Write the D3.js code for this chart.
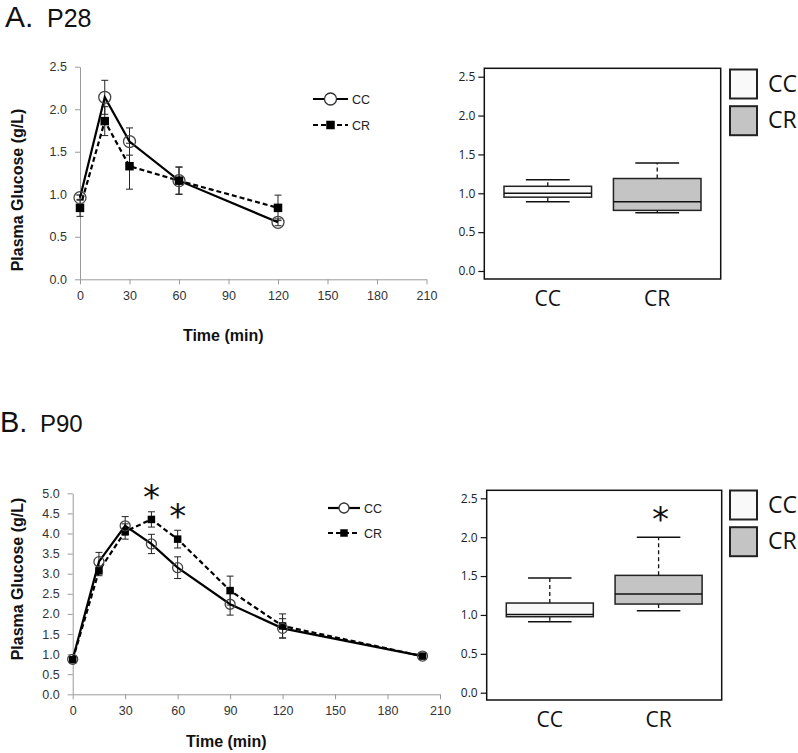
<!DOCTYPE html>
<html><head><meta charset="utf-8">
<script src="https://cdn.jsdelivr.net/npm/d3@7"></script>
<style>body{margin:0;background:#fff}svg{display:block}</style>
</head><body>
<svg id="c" width="798" height="753"></svg>
<script>
// ---- Data ----
const timeA = [0, 15, 30, 60, 120];
const ccA = [0.96, 2.14, 1.62, 1.16, 0.67];
const ccAerr = [0.03, 0.20, 0.16, 0.16, 0.04];
const crA = [0.84, 1.86, 1.33, 1.16, 0.84];
const crAerr = [0.10, 0.17, 0.27, 0.16, 0.15];

const timeB = [0, 15, 30, 45, 60, 90, 120, 200];
const ccB = [0.87, 3.30, 4.19, 3.74, 3.15, 2.24, 1.64, 0.95];
const ccBerr = [0.05, 0.23, 0.23, 0.24, 0.27, 0.27, 0.24, 0.03];
const crB = [0.86, 3.07, 4.05, 4.35, 3.86, 2.58, 1.70, 0.95];
const crBerr = [0.05, 0.12, 0.19, 0.19, 0.22, 0.36, 0.30, 0.03];
const starTimesB = [45, 60];

const xTicks = [0, 30, 60, 90, 120, 150, 180, 210];
const yTicksA = [0, 0.5, 1.0, 1.5, 2.0, 2.5];
const yTicksB = [0, 0.5, 1.0, 1.5, 2.0, 2.5, 3.0, 3.5, 4.0, 4.5, 5.0];
const boxTicks = [0, 0.5, 1.0, 1.5, 2.0, 2.5];

const groups = ["CC", "CR"];
// [min, q1, median, q3, max]
const boxA_CC = [0.89, 0.95, 1.00, 1.09, 1.175];
const boxA_CR = [0.75, 0.78, 0.89, 1.19, 1.39];
const boxB_CC = [0.913, 0.977, 1.007, 1.153, 1.474];
const boxB_CR = [1.054, 1.14, 1.27, 1.509, 2.0];
const boxStarB = "CR";

const svg = d3.select("#c");
const sans = "'Liberation Sans', Arial, sans-serif";
const tickFont = sans;
const boxFont = "'Open Sans', sans-serif";
const starFont = "'DejaVu Sans', sans-serif";
const starSize = 34;

function star(g, cx, cy) {
  g.append("text").attr("x", cx).attr("y", cy + 0.42 * starSize).attr("text-anchor", "middle")
    .attr("font-family", starFont).attr("font-size", starSize).attr("fill", "#111").text("*");
}

// Titles
function title(x, y, letter, sub, s1, s2, x2) {
  svg.append("text").attr("x", x).attr("y", y).attr("font-family", sans).attr("font-size", s1).attr("fill", "#111").text(letter);
  svg.append("text").attr("x", x2).attr("y", y).attr("font-family", sans).attr("font-size", s2).attr("fill", "#111").text(sub);
}
title(5, 27, "A.", "P28", 30, 25, 47);
title(0, 432, "B.", "P90", 29, 24, 40);

function lineChart(cfg) {
  const x = d3.scaleLinear().domain([0, 210]).range([cfg.x0, cfg.x1]);
  const y = d3.scaleLinear().domain([0, cfg.ymax]).range([cfg.y0, cfg.y1]);
  const g = svg.append("g");
  const ax = g.append("g").attr("transform", `translate(0,${cfg.y0})`)
    .call(d3.axisBottom(x).tickValues(xTicks).tickSize(5).tickSizeOuter(0).tickFormat(d3.format("d")));
  const ay = g.append("g").attr("transform", `translate(${cfg.x0},0)`)
    .call(d3.axisLeft(y).tickValues(cfg.yticks).tickSize(5).tickSizeOuter(0).tickPadding(8).tickFormat(d3.format(".1f")));
  [ax, ay].forEach(a => {
    a.select(".domain").attr("stroke", "#9a9a9a");
    a.selectAll(".tick line").attr("stroke", "#9a9a9a");
    a.selectAll(".tick text").attr("font-family", tickFont).attr("font-size", 12.5).attr("fill", "#333");
  });
  ax.selectAll(".tick text").attr("dy", "1.05em");

  const series = [
    {name: "CC", t: cfg.t, v: cfg.cc, e: cfg.ccErr, dash: null},
    {name: "CR", t: cfg.t, v: cfg.cr, e: cfg.crErr, dash: "5,3"}
  ];
  const line = d3.line().x(d => x(d[0])).y(d => y(d[1]));
  // error bars
  series.forEach(s => {
    s.t.forEach((tt, i) => {
      const cx = x(tt), hi = y(s.v[i] + s.e[i]), lo = y(s.v[i] - s.e[i]);
      g.append("line").attr("x1", cx).attr("x2", cx).attr("y1", hi).attr("y2", lo).attr("stroke", "#222").attr("stroke-width", 1);
      [hi, lo].forEach(yy => g.append("line").attr("x1", cx - 3.5).attr("x2", cx + 3.5).attr("y1", yy).attr("y2", yy).attr("stroke", "#222").attr("stroke-width", 1));
    });
  });
  series.slice().reverse().forEach(s => {
    g.append("path").datum(s.t.map((tt, i) => [tt, s.v[i]])).attr("d", line)
      .attr("fill", "none").attr("stroke", "#000").attr("stroke-width", 2.2)
      .attr("stroke-dasharray", s.dash);
  });
  // markers
  const sq = cfg.sq, r = cfg.r;
  series[1].t.forEach((tt, i) => g.append("rect").attr("x", x(tt) - sq / 2).attr("y", y(series[1].v[i]) - sq / 2)
    .attr("width", sq).attr("height", sq).attr("fill", "#000"));
  series[0].t.forEach((tt, i) => g.append("circle").attr("cx", x(tt)).attr("cy", y(series[0].v[i])).attr("r", r)
    .attr("fill", "none").attr("stroke", "#444").attr("stroke-width", 1.3));

  // axis titles
  g.append("text").attr("x", (cfg.x0 + cfg.x1) / 2 - 30).attr("y", cfg.xlabY).attr("text-anchor", "middle")
    .attr("font-family", sans).attr("font-weight", "bold").attr("font-size", 16)
    .attr("fill", "#111").text("Time (min)");
  g.append("text").attr("transform", `translate(23,${cfg.ylabY}) rotate(-90)`).attr("text-anchor", "middle")
    .attr("font-family", sans).attr("font-weight", "bold").attr("font-size", 16)
    .attr("fill", "#111").text("Plasma Glucose (g/L)");

  // legend
  series.forEach((s, i) => {
    const ly = cfg.legY + i * cfg.legDy;
    g.append("line").attr("x1", cfg.legX).attr("x2", cfg.legX + cfg.legW).attr("y1", ly).attr("y2", ly)
      .attr("stroke", "#000").attr("stroke-width", 2.2).attr("stroke-dasharray", s.dash);
    const mx = cfg.legX + cfg.legW / 2;
    if (s.name === "CC") g.append("circle").attr("cx", mx).attr("cy", ly).attr("r", r).attr("fill", "#fff").attr("stroke", "#333").attr("stroke-width", 1.3);
    else g.append("rect").attr("x", mx - sq / 2).attr("y", ly - sq / 2).attr("width", sq).attr("height", sq).attr("fill", "#000");
    g.append("text").attr("x", cfg.legX + cfg.legW + 4).attr("y", ly + 4.5).attr("font-family", tickFont)
      .attr("font-size", 12.5).attr("fill", "#222").text(s.name);
  });
  return {x, y, g};
}

const A = lineChart({x0: 80, x1: 426.5, y0: 279.3, y1: 66.7, ymax: 2.5, yticks: yTicksA,
  t: timeA, cc: ccA, ccErr: ccAerr, cr: crA, crErr: crAerr, r: 6, sq: 8.5,
  xlabY: 341, ylabY: 190, legX: 313, legW: 35, legY: 99, legDy: 26});

const B = lineChart({x0: 72.7, x1: 440, y0: 694.3, y1: 493.3, ymax: 5, yticks: yTicksB,
  t: timeB, cc: ccB, ccErr: ccBerr, cr: crB, crErr: crBerr, r: 5, sq: 7.5,
  xlabY: 747, ylabY: 579, legX: 328, legW: 32, legY: 508, legDy: 25});

// significance stars on B line chart
starTimesB.forEach(tt => {
  const i = timeB.indexOf(tt);
  const top = Math.max(ccB[i] + ccBerr[i], crB[i] + crBerr[i]);
  star(B.g, B.x(tt), B.y(top) - 17);
});

function boxPlot(cfg) {
  const g = svg.append("g");
  const y = d3.scaleLinear().domain([0, 2.5]).range([cfg.y0, cfg.y1]);
  const x = d3.scaleBand().domain(groups).range([cfg.fx0, cfg.fx1]).paddingInner(0.2).paddingOuter(0.18);
  g.append("rect").attr("x", cfg.fx0).attr("y", cfg.fy0).attr("width", cfg.fx1 - cfg.fx0).attr("height", cfg.fy1 - cfg.fy0)
    .attr("fill", "none").attr("stroke", "#111").attr("stroke-width", 1.5);
  const ay = g.append("g").attr("transform", `translate(${cfg.fx0},0)`)
    .call(d3.axisLeft(y).tickValues(boxTicks).tickSize(6).tickPadding(3).tickFormat(d3.format(".1f")));
  ay.select(".domain").remove();
  ay.selectAll(".tick line").attr("stroke", "#111").attr("stroke-width", 1.2);
  ay.selectAll(".tick text").attr("font-family", boxFont).attr("font-size", 12).attr("fill", "#222");

  const fills = {CC: "#f9f9f9", CR: "#c4c4c4"};
  groups.forEach(k => {
    const s = cfg.stats[k];
    const bx = x(k), bw = x.bandwidth(), cx = bx + bw / 2;
    g.append("line").attr("x1", cx).attr("x2", cx).attr("y1", y(s[3])).attr("y2", y(s[4])).attr("stroke", "#111").attr("stroke-width", 1.3).attr("stroke-dasharray", "4,3");
    g.append("line").attr("x1", cx).attr("x2", cx).attr("y1", y(s[1])).attr("y2", y(s[0])).attr("stroke", "#111").attr("stroke-width", 1.3).attr("stroke-dasharray", "4,3");
    [s[0], s[4]].forEach(v => g.append("line").attr("x1", cx - bw / 4).attr("x2", cx + bw / 4).attr("y1", y(v)).attr("y2", y(v)).attr("stroke", "#111").attr("stroke-width", 1.5));
    g.append("rect").attr("x", bx).attr("y", y(s[3])).attr("width", bw).attr("height", y(s[1]) - y(s[3]))
      .attr("fill", fills[k]).attr("stroke", "#222").attr("stroke-width", 1.5);
    g.append("line").attr("x1", bx).attr("x2", bx + bw).attr("y1", y(s[2])).attr("y2", y(s[2])).attr("stroke", "#111").attr("stroke-width", 1.5);
    g.append("text").attr("x", cx).attr("y", cfg.fy1 + 27).attr("text-anchor", "middle")
      .attr("font-family", boxFont).attr("font-size", 21).attr("fill", "#111").text(k);
    if (cfg.star === k) star(g, cx + 2, y(s[4]) - 20);
  });
  // legend
  groups.forEach((k, i) => {
    const ly = cfg.legY + i * 36.7;
    g.append("rect").attr("x", 730).attr("y", ly).attr("width", 27).attr("height", 29)
      .attr("fill", fills[k]).attr("stroke", "#222").attr("stroke-width", 2);
    g.append("text").attr("x", 768).attr("y", ly + 22).attr("font-family", boxFont).attr("font-size", 23).attr("fill", "#111").text(k);
  });
}

boxPlot({fx0: 484.3, fx1: 720.7, fy0: 68.3, fy1: 279, y0: 271, y1: 76.7,
  stats: {CC: boxA_CC, CR: boxA_CR}, legY: 69.5, star: null});
boxPlot({fx0: 486.7, fx1: 721.7, fy0: 490.3, fy1: 700, y0: 692.7, y1: 498.3,
  stats: {CC: boxB_CC, CR: boxB_CR}, legY: 490.5, star: boxStarB});
</script>
</body></html>
